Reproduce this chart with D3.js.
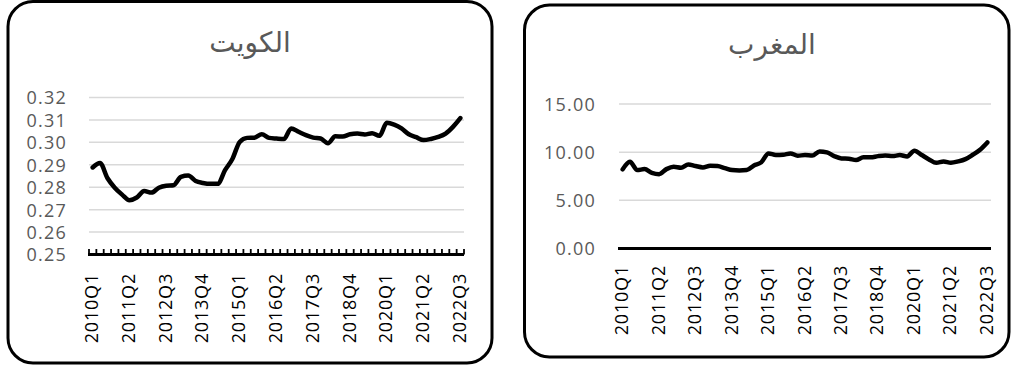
<!DOCTYPE html>
<html>
<head>
<meta charset="utf-8">
<script src="https://cdn.jsdelivr.net/npm/d3@7"></script>
<style>
  html, body { margin: 0; padding: 0; background: #fff; }
  svg { display: block; }
</style>
</head>
<body>
<svg id="chart" width="1011" height="368"></svg>
<script>
const quarters = [];
for (let y = 2010; y <= 2022; y++) for (let q = 1; q <= 4; q++) {
  if (y === 2022 && q > 3) break;
  quarters.push(y + "Q" + q);
}
const tickLabels = ["2010Q1","2011Q2","2012Q3","2013Q4","2015Q1","2016Q2","2017Q3","2018Q4","2020Q1","2021Q2","2022Q3"];

const kuwaitTitle = "الكويت";
const kuwaitValues = [0.2888,0.2908,0.2841,0.2798,0.2767,0.2742,0.2754,0.2783,0.2776,0.2798,
  0.2807,0.2809,0.2846,0.2852,0.2828,0.2819,0.2815,0.2815,0.2876,0.2926,
  0.3002,0.3020,0.3021,0.3036,0.3020,0.3017,0.3015,0.3062,0.3047,0.3032,
  0.3021,0.3017,0.2996,0.3027,0.3026,0.3036,0.3039,0.3035,0.3041,0.3029,
  0.3087,0.3079,0.3062,0.3036,0.3023,0.3010,0.3015,0.3024,0.3039,0.3069,0.3108];
const kuwaitTicks = [0.25,0.26,0.27,0.28,0.29,0.30,0.31,0.32];

const moroccoTitle = "المغرب";
const moroccoValues = [8.21,9.00,8.14,8.24,7.86,7.72,8.24,8.49,8.38,8.73,
  8.56,8.42,8.59,8.56,8.35,8.14,8.10,8.14,8.62,8.94,
  9.87,9.70,9.73,9.87,9.63,9.70,9.66,10.08,9.98,9.59,
  9.35,9.32,9.18,9.46,9.46,9.59,9.66,9.59,9.70,9.56,
  10.15,9.70,9.25,8.90,9.04,8.90,9.04,9.28,9.73,10.25,11.01];
const moroccoTicks = [0,5,10,15];

const svg = d3.select("#chart");
const numFont = "'Open Sans', 'Liberation Sans', sans-serif";

function panel(cfg) {
  const g = svg.append("g");
  g.append("rect")
    .attr("x", cfg.box[0]).attr("y", cfg.box[1])
    .attr("width", cfg.box[2]).attr("height", cfg.box[3])
    .attr("rx", 25).attr("ry", 25)
    .attr("fill", "#fff").attr("stroke", "#000").attr("stroke-width", 3);

  g.append("text")
    .attr("x", cfg.titleX).attr("y", cfg.titleY)
    .attr("text-anchor", "middle")
    .attr("font-family", "'DejaVu Sans', sans-serif")
    .attr("font-size", 28)
    .attr("fill", "#595959")
    .text(cfg.title);

  const x = d3.scaleBand().domain(quarters).range([cfg.x0, cfg.x1]).padding(0);
  const y = d3.scaleLinear().domain(cfg.domain).range([cfg.yBottom, cfg.yTop]);

  // gridlines
  g.append("g").selectAll("line")
    .data(cfg.ticks.slice(1))
    .join("line")
    .attr("x1", cfg.x0).attr("x2", cfg.x1)
    .attr("y1", d => y(d)).attr("y2", d => y(d))
    .attr("stroke", "#d9d9d9").attr("stroke-width", 1.5);

  // y axis labels
  const yAxis = d3.axisLeft(y).tickValues(cfg.ticks).tickFormat(cfg.fmt).tickSize(0).tickPadding(0);
  const ya = g.append("g").attr("transform", `translate(${cfg.yLabelX},0)`).call(yAxis);
  ya.select(".domain").remove();
  ya.selectAll("text")
    .attr("font-family", numFont).attr("font-size", 18)
    .attr("letter-spacing", "1.2px")
    .attr("fill", "#595959")
    .attr("dy", "0.36em");

  // x axis
  const xa = g.append("g").attr("transform", `translate(0,${cfg.yBottom})`)
    .call(d3.axisBottom(x).tickValues(tickLabels).tickSize(0).tickPadding(0));
  xa.select(".domain").remove();
  xa.selectAll("text")
    .attr("font-family", numFont).attr("font-size", 18)
    .attr("letter-spacing", "0.8px")
    .attr("fill", "#000")
    .attr("text-anchor", "end")
    .attr("transform", `translate(${cfg.labelDx},${cfg.labelTop - cfg.yBottom}) rotate(-90)`)
    .attr("x", 0).attr("y", 0).attr("dy", 0);

  // baseline
  g.append("line")
    .attr("x1", cfg.x0 - 1).attr("x2", cfg.x1)
    .attr("y1", cfg.axisY).attr("y2", cfg.axisY)
    .attr("stroke", "#000").attr("stroke-width", 3);

  if (cfg.minorTicks) {
    const bounds = quarters.map(q => x(q)).concat([cfg.x1]);
    g.append("g").selectAll("line")
      .data(bounds).join("line")
      .attr("x1", d => d).attr("x2", d => d)
      .attr("y1", cfg.axisY - 5.5).attr("y2", cfg.axisY)
      .attr("stroke", "#000").attr("stroke-width", 1.8);
  }

  const line = d3.line()
    .x((d, i) => x(quarters[i]) + x.bandwidth() / 2)
    .y(d => y(d))
    .curve(d3.curveMonotoneX);
  g.append("path")
    .datum(cfg.values)
    .attr("d", line)
    .attr("fill", "none")
    .attr("stroke", "#000")
    .attr("stroke-width", 4.5)
    .attr("stroke-linejoin", "round")
    .attr("stroke-linecap", "round");
}

panel({
  box: [8, 1.5, 484, 361.5],
  title: kuwaitTitle, titleX: 250, titleY: 52,
  x0: 89, x1: 464,
  domain: [0.25, 0.32], yBottom: 254.5, yTop: 97.5,
  ticks: kuwaitTicks, fmt: d3.format(".2f"),
  yLabelX: 67,
  labelDx: 5.5, labelTop: 273,
  axisY: 254.5, minorTicks: true,
  values: kuwaitValues
});

panel({
  box: [524.5, 5, 484.5, 352],
  title: moroccoTitle, titleX: 772, titleY: 54,
  x0: 619, x1: 991,
  domain: [0, 15], yBottom: 248.5, yTop: 104,
  ticks: moroccoTicks, fmt: d3.format(".2f"),
  yLabelX: 596,
  labelDx: 5.5, labelTop: 265,
  axisY: 248.5, minorTicks: false,
  values: moroccoValues
});
</script>
</body>
</html>
